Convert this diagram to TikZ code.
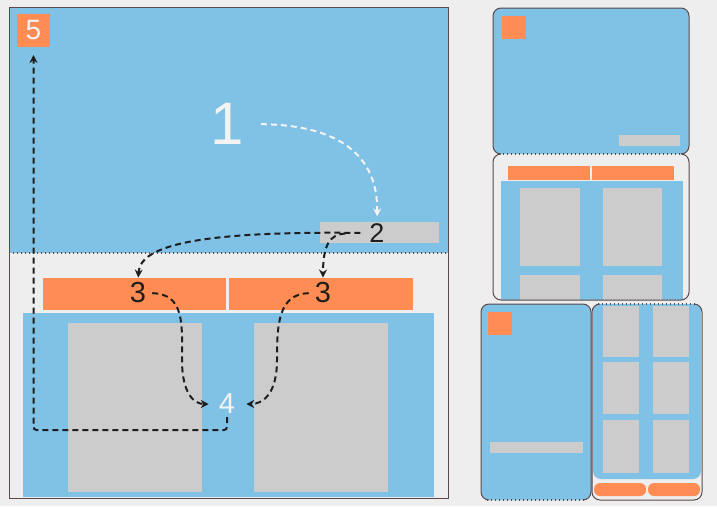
\documentclass[tikz,border=0pt]{standalone}
\usepackage{fontspec}
\setmainfont{Liberation Sans}
\usetikzlibrary{arrows.meta,calc}
\definecolor{bgc}{RGB}{238,238,238}
\definecolor{sky}{RGB}{128,193,230}
\definecolor{org}{RGB}{255,140,82}
\definecolor{gry}{RGB}{204,204,204}
\definecolor{frm}{RGB}{90,74,74}
\definecolor{ink}{RGB}{30,30,30}
\definecolor{wht}{RGB}{243,243,243}
\begin{document}
\begin{tikzpicture}[x=1pt,y=-1pt,
  flow/.style={line width=2pt, dash pattern=on 6pt off 4pt, -{Stealth[length=8pt,width=8pt]}},
  dots/.style={frm, line width=1.3pt, dash pattern=on 1.3pt off 2.7pt},
  rim/.style={frm, line width=1pt, rounded corners=8pt},
  lbl/.style={inner sep=0pt, font=\fontsize{29}{29}\selectfont},
  blk/.style={inner sep=0pt, outer sep=0pt}]
\useasboundingbox (0,0) rectangle (717,506);
\fill[bgc] (0,0) rectangle (717,506);

% ---------- main frame ----------
\fill[sky] (9,7) rectangle (448,253);
\draw[dots] (9,253) -- (448,253);
\node[blk, fill=gry, minimum width=119pt, minimum height=21pt] (bar2) at (379.5,232.5) {};
\node[blk, fill=org, minimum width=183pt, minimum height=32pt] (tabL) at (134.5,294) {};
\node[blk, fill=org, minimum width=184pt, minimum height=32pt] (tabR) at (321,294) {};
\node[blk, fill=sky, minimum width=411pt, minimum height=184pt] (pane) at (228.5,405) {};
\node[blk, fill=gry, minimum width=134pt, minimum height=169pt] (cardL) at (135,407.5) {};
\node[blk, fill=gry, minimum width=134pt, minimum height=169pt] (cardR) at (321,407.5) {};
\node[blk, fill=org, minimum width=33pt, minimum height=33pt, text=wht, font=\fontsize{28}{28}\selectfont] (n5) at (33.5,30.5) {5};
\draw[frm, line width=1pt] (9,7) rectangle (448,498);

\node[inner sep=0pt, text=wht, font=\fontsize{60}{60}\selectfont] (n1) at (227,124) {1};
\node[lbl, text=ink, font=\fontsize{27}{27}\selectfont] (n2) at (377,233) {2};
\node[lbl, text=ink] (n3a) at (138,293) {3};
\node[lbl, text=ink] (n3b) at (323,293) {3};
\node[lbl, text=wht] (n4) at (227,404) {4};
\coordinate (c45) at (33.5,430);

\draw[flow, wht, shorten <=17pt, shorten >=7pt] (n1.east) .. controls (345,125) and (378,160) .. (n2.north);
\draw[flow, ink, shorten <=9pt, shorten >=5pt] (n2.west) .. controls (200,231) and (140,245) .. (n3a.north);
\draw[flow, ink, shorten <=24pt, shorten >=5pt] (n2.west) .. controls (330,234) and (323,245) .. (n3b.north);
\draw[flow, ink, shorten <=6pt, shorten >=10pt] (n3a.east) .. controls (185,294) and (182,325) .. (182,360) .. controls (182,395) and (195,404) .. (n4.west);
\draw[flow, ink, shorten <=6pt, shorten >=11pt] (n3b.west) .. controls (278,294) and (277,325) .. (277,360) .. controls (277,395) and (262,404) .. (n4.east);
\draw[flow, ink, rounded corners=3pt, shorten <=3pt, shorten >=8pt] (n4.south) |- (c45) -- (n5.south);

% ---------- thumbnail: top ----------
\fill[sky, rounded corners=8pt] (493,8) rectangle (689,154);
\fill[org] (502,16) rectangle (526,39);
\fill[gry] (619,135) rectangle (680,146);
\draw[rim] (501,154) -- (493,154) -- (493,8) -- (689,8) -- (689,154) -- (681,154);

% ---------- thumbnail: second ----------
\begin{scope}
\clip[rounded corners=8pt] (493,154) rectangle (689,300);
\fill[bgc] (493,154) rectangle (689,300);
\fill[sky] (501,181) rectangle (683,310);
\fill[gry] (520,188) rectangle (580,266);
\fill[gry] (603,188) rectangle (662,266);
\fill[gry] (520,275) rectangle (580,310);
\fill[gry] (603,275) rectangle (662,310);
\fill[org] (508,166) rectangle (590,180);
\fill[org] (592,166) rectangle (674,180);
\end{scope}
\draw[rim] (501,154) -- (493,154) -- (493,300) -- (689,300) -- (689,154) -- (681,154);
\draw[dots] (499,154) -- (683,154);

% ---------- thumbnail: bottom left ----------
\fill[sky, rounded corners=8pt] (481,304) rectangle (591,500);
\fill[org] (488,312) rectangle (512,335);
\fill[gry] (490,442) rectangle (583,453);
\draw[rim] (489,500) -- (481,500) -- (481,304) -- (591,304) -- (591,500) -- (583,500);
\draw[dots] (487,500) -- (585,500);

% ---------- thumbnail: bottom right ----------
\begin{scope}
\clip[rounded corners=8pt] (592,304) rectangle (702,500);
\fill[sky, rounded corners=8pt] (593,290) rectangle (701,479);
\fill[gry] (603,306) rectangle (639,357);
\fill[gry] (653,306) rectangle (689,357);
\fill[gry] (603,362) rectangle (639,414);
\fill[gry] (653,362) rectangle (689,414);
\fill[gry] (603,420) rectangle (639,473);
\fill[gry] (653,420) rectangle (689,473);
\end{scope}
\fill[org, rounded corners=6pt] (594,483) rectangle (646,496);
\fill[org, rounded corners=6pt] (648,483) rectangle (700,496);
\draw[rim] (600,304) -- (592,304) -- (592,500) -- (702,500) -- (702,304) -- (694,304);
\draw[dots] (598,304) -- (696,304);
\end{tikzpicture}
\end{document}
